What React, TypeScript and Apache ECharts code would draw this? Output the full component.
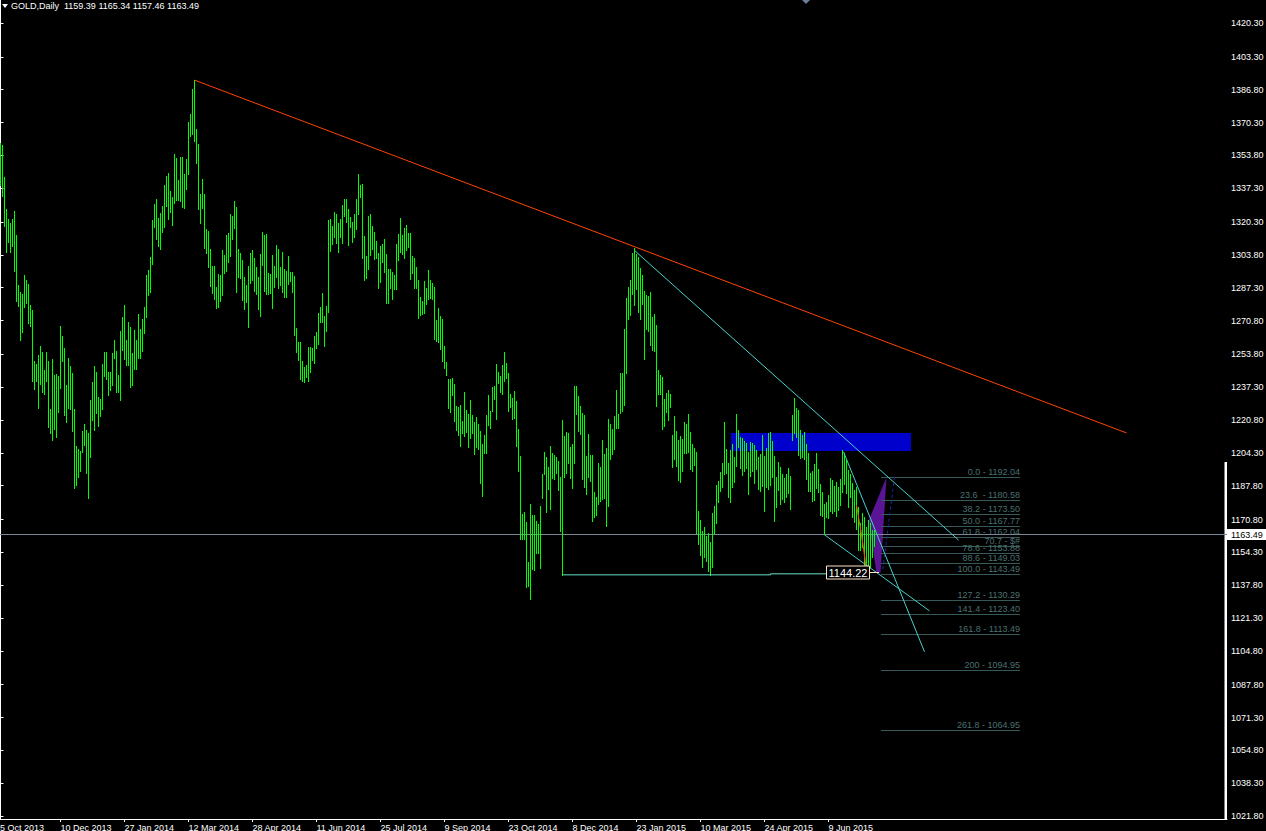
import React, { useEffect, useRef } from 'react';
import * as echarts from 'echarts';

// ---- price bars (index = trading day, 2 px each) ----
const highs = [
  1360.0, 1359.0, 1343.0, 1326.9, 1321.9, 1319.8, 1321.9, 1325.9, 1313.8, 1288.7,
  1285.2, 1284.2, 1293.7, 1291.2, 1289.2, 1278.6, 1276.1, 1250.5, 1249.0, 1253.5,
  1258.0, 1255.0, 1246.0, 1255.0, 1250.5, 1226.4, 1251.5, 1243.5, 1244.0, 1243.0,
  1268.1, 1263.1, 1257.0, 1238.4, 1252.0, 1248.0, 1244.5, 1226.4, 1207.8, 1206.3,
  1205.3, 1215.3, 1218.8, 1215.8, 1214.3, 1230.9, 1239.9, 1248.0, 1245.0, 1232.4,
  1231.4, 1249.0, 1255.0, 1255.0, 1245.0, 1245.0, 1254.5, 1261.0, 1255.5, 1243.5,
  1265.6, 1272.6, 1278.6, 1261.0, 1270.1, 1267.6, 1254.5, 1266.1, 1261.0, 1274.1,
  1266.6, 1271.6, 1277.6, 1293.7, 1296.2, 1302.8, 1321.3, 1329.4, 1331.9, 1322.4,
  1324.9, 1328.4, 1338.9, 1343.5, 1345.0, 1335.9, 1332.9, 1354.5, 1352.5, 1341.4,
  1353.0, 1353.0, 1344.5, 1352.0, 1370.6, 1374.6, 1387.1, 1391.6, 1367.1, 1359.5,
  1334.4, 1342.0, 1334.4, 1316.8, 1315.8, 1306.8, 1298.2, 1298.2, 1287.7, 1294.2,
  1293.7, 1306.3, 1303.8, 1313.8, 1314.8, 1324.4, 1323.4, 1330.9, 1327.9, 1306.8,
  1304.8, 1301.2, 1292.7, 1288.7, 1298.2, 1304.8, 1306.3, 1302.3, 1297.7, 1292.7,
  1304.3, 1315.3, 1313.8, 1314.3, 1294.7, 1294.2, 1303.8, 1298.2, 1308.8, 1306.8,
  1297.7, 1305.3, 1296.7, 1295.7, 1303.3, 1295.2, 1295.2, 1293.2, 1267.1, 1260.0,
  1260.0, 1250.5, 1247.5, 1248.5, 1257.5, 1257.5, 1257.0, 1263.1, 1265.1, 1274.6,
  1277.6, 1284.7, 1273.1, 1278.1, 1321.3, 1321.9, 1318.3, 1325.4, 1324.4, 1319.8,
  1321.9, 1328.9, 1331.9, 1331.9, 1326.9, 1322.9, 1320.3, 1324.4, 1331.9, 1344.5,
  1338.9, 1339.4, 1313.3, 1303.3, 1323.4, 1324.4, 1318.3, 1315.3, 1310.8, 1304.8,
  1308.3, 1309.3, 1311.8, 1304.3, 1296.7, 1296.7, 1295.2, 1293.7, 1309.3, 1314.3,
  1322.4, 1313.8, 1317.3, 1318.8, 1314.8, 1314.8, 1303.3, 1302.3, 1297.7, 1291.2,
  1282.7, 1280.6, 1290.7, 1287.2, 1296.2, 1291.2, 1289.7, 1287.7, 1271.1, 1277.1,
  1273.1, 1271.6, 1258.0, 1250.0, 1241.5, 1241.5, 1242.0, 1238.9, 1227.9, 1227.4,
  1228.4, 1220.3, 1234.9, 1225.9, 1223.9, 1230.9, 1223.4, 1219.8, 1222.4, 1218.8,
  1215.3, 1208.8, 1213.3, 1223.4, 1233.4, 1225.4, 1237.4, 1237.9, 1249.0, 1245.0,
  1243.0, 1248.5, 1255.0, 1249.5, 1244.5, 1233.9, 1231.9, 1235.4, 1230.4, 1216.3,
  1202.8, 1173.6, 1174.6, 1169.6, 1149.5, 1178.6, 1173.1, 1173.1, 1170.1, 1168.6,
  1177.6, 1193.7, 1204.8, 1202.3, 1197.2, 1207.8, 1204.3, 1203.3, 1202.3, 1200.2,
  1192.2, 1220.8, 1212.8, 1214.8, 1214.3, 1207.3, 1208.8, 1237.9, 1237.9, 1232.9,
  1227.9, 1224.4, 1223.4, 1202.8, 1213.8, 1203.3, 1203.3, 1184.7, 1182.2, 1199.2,
  1197.2, 1210.8, 1203.8, 1206.8, 1221.4, 1218.8, 1216.3, 1222.9, 1235.9, 1223.9,
  1244.5, 1244.5, 1266.6, 1282.2, 1287.7, 1291.2, 1304.8, 1307.3, 1304.3, 1302.8,
  1297.2, 1293.7, 1285.7, 1283.7, 1283.2, 1285.2, 1272.6, 1274.1, 1268.6, 1246.0,
  1243.5, 1242.5, 1231.4, 1234.4, 1235.9, 1233.9, 1213.3, 1222.9, 1215.3, 1210.8,
  1212.8, 1211.3, 1219.8, 1218.8, 1223.9, 1214.8, 1208.8, 1206.8, 1204.8, 1175.1,
  1170.6, 1165.1, 1167.1, 1162.6, 1164.1, 1159.5, 1174.1, 1177.6, 1188.2, 1190.2,
  1194.7, 1199.2, 1219.8, 1206.3, 1199.2, 1205.8, 1208.8, 1202.3, 1223.9, 1215.8,
  1212.3, 1211.8, 1210.3, 1209.3, 1204.8, 1209.8, 1209.3, 1208.3, 1205.8, 1202.3,
  1203.8, 1213.3, 1202.8, 1206.8, 1214.3, 1214.8, 1210.3, 1202.8, 1192.2, 1199.7,
  1197.2, 1193.7, 1191.7, 1193.7, 1196.7, 1192.7, 1223.4, 1231.9, 1226.9, 1225.9,
  1215.8, 1213.3, 1214.8, 1208.8, 1204.3, 1194.2, 1195.2, 1198.7, 1204.3, 1196.2,
  1188.7, 1184.7, 1178.6, 1179.6, 1183.2, 1191.7, 1190.7, 1187.7, 1189.7, 1187.2,
  1191.2, 1205.8, 1204.3, 1200.7, 1195.7, 1193.7, 1189.2, 1185.7, 1187.2, 1177.1,
  1169.1, 1174.1, 1172.1, 1167.1, 1170.6, 1169.1, 1165.6, 1165.34,
];

const lows = [
  1338.9, 1333.4, 1318.3, 1305.3, 1310.3, 1305.3, 1308.3, 1295.7, 1280.6, 1278.1,
  1261.0, 1265.1, 1277.6, 1279.6, 1269.6, 1268.1, 1240.4, 1236.4, 1240.4, 1226.9,
  1238.9, 1234.9, 1233.9, 1240.4, 1217.3, 1214.3, 1210.8, 1216.3, 1212.3, 1224.9,
  1236.9, 1250.5, 1223.4, 1219.8, 1226.9, 1226.4, 1215.3, 1186.7, 1188.2, 1192.2,
  1195.2, 1204.8, 1208.3, 1194.2, 1181.7, 1202.3, 1220.8, 1215.8, 1224.4, 1217.8,
  1222.9, 1226.4, 1243.0, 1241.5, 1233.4, 1235.9, 1238.4, 1252.0, 1234.9, 1234.9,
  1230.9, 1256.0, 1251.5, 1248.5, 1248.5, 1237.4, 1238.4, 1246.5, 1246.5, 1252.0,
  1252.0, 1255.5, 1264.6, 1272.6, 1283.7, 1285.2, 1299.2, 1317.8, 1311.8, 1308.3,
  1306.8, 1315.3, 1317.8, 1328.4, 1321.9, 1325.4, 1318.8, 1329.9, 1331.4, 1331.4,
  1330.9, 1327.9, 1327.4, 1336.9, 1344.5, 1363.6, 1364.6, 1361.0, 1350.0, 1326.9,
  1319.8, 1327.4, 1307.3, 1304.8, 1297.7, 1288.2, 1284.7, 1281.7, 1277.1, 1277.6,
  1280.6, 1283.7, 1294.7, 1295.7, 1300.3, 1303.3, 1311.8, 1317.3, 1285.2, 1292.7,
  1292.2, 1281.1, 1276.6, 1280.1, 1267.6, 1289.7, 1291.2, 1285.7, 1284.2, 1276.6,
  1273.1, 1298.7, 1285.7, 1284.2, 1284.2, 1284.7, 1277.1, 1287.7, 1292.7, 1287.2,
  1288.7, 1285.2, 1282.7, 1282.7, 1289.2, 1290.7, 1285.2, 1263.6, 1255.0, 1251.0,
  1241.5, 1240.4, 1239.9, 1242.5, 1240.4, 1245.0, 1251.0, 1249.5, 1257.0, 1259.0,
  1270.1, 1270.1, 1258.0, 1265.6, 1275.1, 1305.8, 1309.3, 1312.8, 1309.8, 1305.3,
  1312.8, 1309.8, 1323.4, 1320.3, 1308.8, 1317.8, 1310.3, 1312.8, 1316.8, 1324.4,
  1332.9, 1302.3, 1291.2, 1292.2, 1296.7, 1303.8, 1306.8, 1301.8, 1302.3, 1287.2,
  1290.2, 1300.2, 1295.2, 1279.6, 1279.6, 1287.2, 1281.7, 1286.7, 1286.7, 1301.2,
  1305.3, 1304.3, 1302.3, 1306.3, 1307.8, 1291.7, 1294.7, 1287.2, 1287.2, 1272.1,
  1273.6, 1274.1, 1274.6, 1279.1, 1281.7, 1282.2, 1281.7, 1261.6, 1260.5, 1260.0,
  1256.5, 1250.5, 1247.0, 1243.5, 1226.9, 1224.9, 1233.4, 1220.3, 1215.8, 1213.3,
  1207.8, 1214.3, 1212.8, 1214.8, 1207.3, 1211.8, 1214.3, 1203.8, 1207.3, 1206.3,
  1189.2, 1182.7, 1204.3, 1204.3, 1218.3, 1216.8, 1225.4, 1231.4, 1221.4, 1239.4,
  1234.9, 1233.9, 1240.4, 1242.0, 1225.4, 1227.4, 1221.4, 1221.9, 1207.8, 1195.2,
  1161.1, 1161.1, 1161.1, 1136.9, 1137.4, 1130.9, 1146.0, 1145.5, 1154.0, 1154.0,
  1146.5, 1181.7, 1193.7, 1174.6, 1186.2, 1176.1, 1191.7, 1191.2, 1194.2, 1185.7,
  1165.1, 1143.0, 1192.2, 1194.2, 1199.2, 1191.7, 1186.7, 1199.2, 1223.9, 1215.3,
  1213.8, 1191.2, 1187.2, 1183.7, 1192.2, 1190.2, 1170.1, 1172.1, 1173.1, 1178.6,
  1180.1, 1181.2, 1181.7, 1167.6, 1177.6, 1201.3, 1203.8, 1206.3, 1216.8, 1216.8,
  1224.4, 1225.4, 1228.4, 1244.5, 1271.6, 1273.6, 1284.2, 1278.6, 1286.7, 1275.1,
  1271.6, 1279.1, 1251.5, 1266.6, 1265.6, 1258.5, 1256.0, 1255.5, 1227.9, 1233.9,
  1233.9, 1216.3, 1217.8, 1224.9, 1220.8, 1227.4, 1197.2, 1201.3, 1197.7, 1190.7,
  1189.7, 1195.2, 1204.3, 1204.3, 1204.8, 1196.2, 1195.2, 1198.2, 1164.1, 1158.5,
  1153.0, 1147.0, 1152.0, 1150.0, 1145.0, 1143.0, 1147.0, 1164.1, 1169.1, 1179.6,
  1185.2, 1187.2, 1193.7, 1194.2, 1182.2, 1179.6, 1187.2, 1189.7, 1197.7, 1207.3,
  1196.7, 1193.2, 1195.2, 1196.7, 1183.7, 1192.7, 1195.2, 1189.2, 1196.2, 1186.2,
  1185.2, 1187.7, 1175.1, 1187.2, 1186.2, 1188.2, 1192.2, 1170.1, 1177.1, 1185.7,
  1178.6, 1181.2, 1179.6, 1182.2, 1184.2, 1176.1, 1210.8, 1214.3, 1212.3, 1203.3,
  1201.8, 1202.3, 1201.3, 1191.2, 1185.2, 1185.2, 1180.1, 1180.6, 1186.7, 1184.7,
  1173.1, 1172.6, 1163.6, 1172.1, 1171.6, 1175.1, 1174.1, 1175.1, 1172.6, 1175.6,
  1178.1, 1184.7, 1188.7, 1184.2, 1177.1, 1182.2, 1172.1, 1169.6, 1166.1, 1155.5,
  1155.5, 1157.0, 1147.0, 1147.0, 1144.22, 1147.0, 1152.0, 1157.46,
];

// ---- axes ----
const dateTickIndex = [-2, 30, 62, 94, 126, 158, 190, 222, 254, 286, 318, 350, 382, 414];
const dateTickLabels = [
  '5 Oct 2013', '10 Dec 2013', '27 Jan 2014', '12 Mar 2014', '28 Apr 2014', '11 Jun 2014',
  '25 Jul 2014', '9 Sep 2014', '23 Oct 2014', '8 Dec 2014', '23 Jan 2015', '10 Mar 2015',
  '24 Apr 2015', '9 Jun 2015',
];
const priceTicks = [
  1420.3, 1403.3, 1386.8, 1370.3, 1353.8, 1337.3, 1320.3, 1303.8, 1287.3, 1270.8, 1253.8,
  1237.3, 1220.8, 1204.3, 1187.8, 1170.8, 1154.3, 1137.8, 1121.3, 1104.8, 1087.8, 1071.3,
  1054.8, 1038.3, 1021.8,
];
const priceMin = 1020.3;
const priceMax = 1431.86;
const indexMin = -0.25;
const indexMax = 613.25;

const headerText = 'GOLD,Daily  1159.39 1165.34 1157.46 1163.49';
const lastPrice = 1163.49;

// ---- drawings (index, price) ----
const resistanceLine = [[97, 1391.6], [563, 1214.3]];
const trendLineA = [[317, 1306.0], [479, 1160.5]];
const trendLineB = [[421.5, 1204.8], [462, 1104.3]];
const trendLineC = [[412, 1163.1], [464.5, 1124.9]];
const supportLine = [[281, 1143.0], [385, 1143.0], [385, 1143.5], [413, 1143.5]];
const zigzagLine = [[428, 1178.1], [430.5, 1163.1], [433, 1145.5]];
const dashedLine = [[447, 1192.2], [441, 1144.5]];
const triangleArea = [[443, 1192.0], [434, 1170.0], [438, 1144.0], [440, 1144.0]];
const zoneBox = [[365, 1214.3], [455, 1205.3]];
const lowMarker = [439, 1144.22];
const lowMarkerText = '1144.22';

// ---- fibonacci ----
const fibLevels = [0, 23.6, 38.2, 50, 61.8, 70.7, 78.6, 88.6, 100, 127.2, 141.4, 161.8, 200, 261.8];
const fibPrices = [
  1192.04, 1180.58, 1173.5, 1167.77, 1162.04, 1157.72, 1153.88, 1149.03, 1143.49, 1130.29,
  1123.4, 1113.49, 1094.95, 1064.95,
];
const fibTexts = [
  '0.0 - 1192.04', '23.6  - 1180.58', '38.2 - 1173.50', '50.0 - 1167.77', '61.8 - 1162.04',
  '70.7 - $#', '78.6 - 1153.88', '88.6 - 1149.03', '100.0 - 1143.49', '127.2 - 1130.29',
  '141.4 - 1123.40', '161.8 - 1113.49', '200 - 1094.95', '261.8 - 1064.95',
];
const fibSpan = [440, 509.5];

const FONT = 'Liberation Sans';
const BAR_GREEN = '#00ff00';

function lineSeries(data: any[], color: string, z: number, dashed = false) {
  return {
    type: 'line',
    data,
    symbol: 'none',
    silent: true,
    z,
    lineStyle: { color, width: 1, type: dashed ? [3, 3] : 'solid' },
  };
}

export default function App() {
  const ref = useRef<HTMLDivElement>(null);

  useEffect(() => {
    if (!ref.current) return;
    const chart = echarts.init(ref.current, null, { renderer: 'svg' });
    const barData = highs.map((h, i) => [i, h, lows[i]]);

    chart.setOption({
      animation: false,
      backgroundColor: '#000000',
      grid: { left: 0, top: 0, right: 39, bottom: 12, containLabel: false, outerBoundsMode: 'none' },
      xAxis: {
        type: 'value',
        min: indexMin,
        max: indexMax,
        axisLine: { show: true, lineStyle: { color: '#ffffff', width: 1 } },
        axisTick: {
          show: true,
          length: 3,
          lineStyle: { color: '#ffffff' },
          customValues: dateTickIndex.slice(1),
        },
        axisLabel: {
          show: true,
          color: '#ffffff',
          fontFamily: FONT,
          fontSize: 9,
          align: 'left',
          margin: 4,
          customValues: dateTickIndex.slice(1),
          formatter: (v: number) => {
            const k = dateTickIndex.indexOf(Math.round(v));
            return k >= 0 ? dateTickLabels[k] : '';
          },
        },
        splitLine: { show: false },
      },
      yAxis: {
        type: 'value',
        position: 'right',
        min: priceMin,
        max: priceMax,
        axisLine: { show: true, lineStyle: { color: '#ffffff', width: 1 } },
        axisTick: { show: true, length: 3, lineStyle: { color: '#ffffff' }, customValues: priceTicks },
        axisLabel: {
          show: true,
          color: '#ffffff',
          fontFamily: FONT,
          fontSize: 9,
          margin: 4,
          customValues: priceTicks,
          formatter: (v: number) => v.toFixed(2),
        },
        splitLine: { show: false },
      },
      series: [
        {
          type: 'custom',
          z: 1,
          silent: true,
          data: [[0]],
          renderItem: (params: any, api: any) => {
            const a = api.coord(zoneBox[0]);
            const b = api.coord(zoneBox[1]);
            return {
              type: 'rect',
              shape: { x: Math.round(a[0]), y: Math.round(a[1]), width: Math.round(b[0] - a[0]), height: Math.round(b[1] - a[1]) },
              style: { fill: '#0000cd' },
            };
          },
        },
        {
          type: 'custom',
          z: 1,
          silent: true,
          data: [[0]],
          renderItem: (params: any, api: any) => ({
            type: 'polygon',
            shape: { points: triangleArea.map((p) => api.coord(p)) },
            style: { fill: '#5a1496' },
          }),
        },
        {
          type: 'custom',
          z: 2,
          silent: true,
          data: fibPrices.map((p) => [fibSpan[0], p]),
          renderItem: (params: any, api: any) => {
            const price = api.value(1);
            const a = api.coord([fibSpan[0], price]);
            const b = api.coord([fibSpan[1], price]);
            const y = Math.round(a[1]) + 0.5;
            return {
              type: 'group',
              children: [
                { type: 'line', shape: { x1: Math.round(a[0]), y1: y, x2: Math.round(b[0]), y2: y }, style: { stroke: '#365a5a', lineWidth: 1 } },
                {
                  type: 'text',
                  style: {
                    text: fibTexts[params.dataIndex],
                    x: Math.round(b[0]),
                    y: y - 1.5,
                    align: 'right',
                    verticalAlign: 'bottom',
                    fill: '#4c7070',
                    fontFamily: FONT,
                    fontSize: 9,
                    lineHeight: 9,
                  },
                },
              ],
            };
          },
        },
        {
          type: 'custom',
          z: 2,
          silent: true,
          data: [[0, lastPrice]],
          renderItem: (params: any, api: any) => {
            const cs = params.coordSys;
            const y = Math.round(api.coord([0, lastPrice])[1]) + 0.5;
            return {
              type: 'group',
              children: [
                { type: 'line', shape: { x1: cs.x, y1: y, x2: cs.x + cs.width, y2: y }, style: { stroke: '#778899', lineWidth: 1 } },
                { type: 'rect', shape: { x: cs.x + cs.width, y: y - 5.5, width: 40, height: 11 }, style: { fill: '#ffffff' } },
                {
                  type: 'text',
                  style: {
                    text: lastPrice.toFixed(2),
                    x: cs.x + cs.width + 4,
                    y: y,
                    align: 'left',
                    verticalAlign: 'middle',
                    fill: '#000000',
                    fontFamily: FONT,
                    fontSize: 9,
                  },
                },
              ],
            };
          },
        },
        {
          type: 'custom',
          name: 'GOLD',
          z: 3,
          silent: true,
          data: barData,
          encode: { x: 0, y: [1, 2] },
          renderItem: (params: any, api: any) => {
            const i = api.value(0);
            const top = api.coord([i, api.value(1)]);
            const bot = api.coord([i, api.value(2)]);
            const y0 = Math.round(top[1]);
            const y1 = Math.round(bot[1]);
            return {
              type: 'rect',
              shape: { x: Math.floor(top[0]), y: y0, width: 1, height: Math.max(1, y1 - y0 + 1) },
              style: { fill: BAR_GREEN },
            };
          },
        },
        lineSeries(resistanceLine, '#ff4500', 4),
        lineSeries(trendLineA, '#48d1cc', 4),
        lineSeries(trendLineB, '#48d1cc', 4),
        lineSeries(trendLineC, '#48d1cc', 4),
        lineSeries(supportLine, '#66e0c8', 4),
        lineSeries(zigzagLine, '#ff4500', 4),
        lineSeries(dashedLine, '#2626a8', 4, true),
        {
          type: 'custom',
          z: 5,
          silent: true,
          data: [lowMarker],
          renderItem: (params: any, api: any) => {
            const p = api.coord([api.value(0), api.value(1)]);
            const y = Math.round(p[1]) + 0.5;
            const right = Math.round(p[0]) - 9.5;
            return {
              type: 'group',
              children: [
                { type: 'line', shape: { x1: right, y1: y, x2: Math.round(p[0]), y2: y }, style: { stroke: '#ffe4c4', lineWidth: 1 } },
                { type: 'rect', shape: { x: right - 43, y: y - 6.5, width: 43, height: 13 }, style: { fill: '#000000', stroke: '#ffe4c4', lineWidth: 1 } },
                {
                  type: 'text',
                  style: {
                    text: lowMarkerText,
                    x: right - 21.5,
                    y: y + 0.5,
                    align: 'center',
                    verticalAlign: 'middle',
                    fill: '#ffffff',
                    fontFamily: FONT,
                    fontSize: 11,
                  },
                },
              ],
            };
          },
        },
      ],
    });

    chart.setOption({
      graphic: [
        { type: 'polygon', silent: true, shape: { points: [[2, 4], [8, 4], [5, 8]] }, style: { fill: '#ffffff' } },
        {
          type: 'text',
          silent: true,
          x: 11,
          y: 6,
          style: { text: headerText, fill: '#ffffff', fontFamily: FONT, fontSize: 9, verticalAlign: 'middle', align: 'left' },
        },
        { type: 'polygon', silent: true, shape: { points: [[802, 0], [810, 0], [806, 4]] }, style: { fill: '#6b7b9b' } },
        { type: 'rect', silent: true, shape: { x: 1224.5, y: 462, width: 2.5, height: 357 }, style: { fill: '#ffffff' } },
        {
          type: 'text',
          silent: true,
          x: 0,
          y: 823,
          style: { text: dateTickLabels[0], fill: '#ffffff', fontFamily: FONT, fontSize: 9, verticalAlign: 'top', align: 'left' },
        },
      ],
    });

    return () => chart.dispose();
  }, []);

  return (
    <div
      ref={ref}
      style={{ position: 'fixed', left: 0, top: 0, width: 1266, height: 831, background: '#000' }}
    />
  );
}
